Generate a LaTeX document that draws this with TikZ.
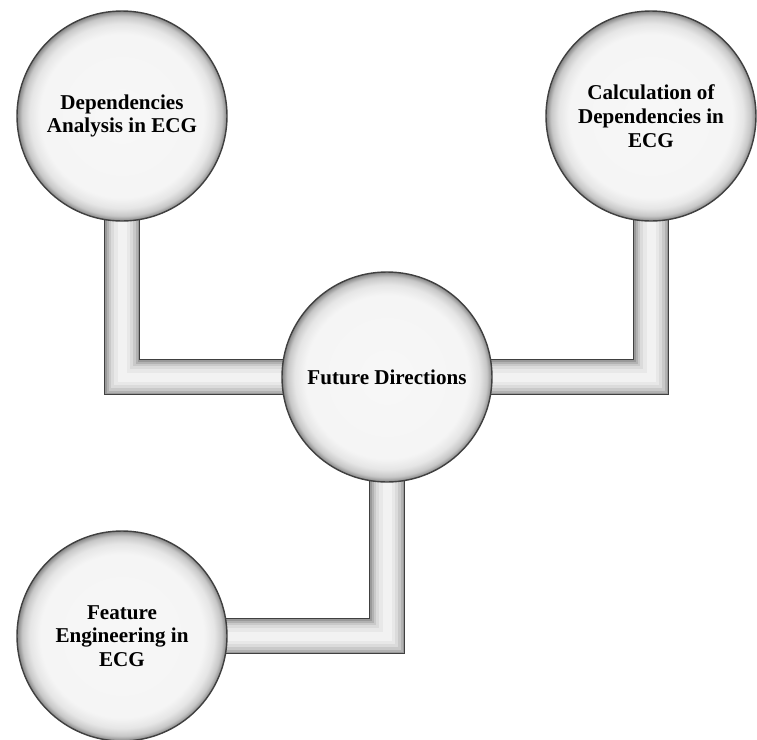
\documentclass[tikz,border=0pt]{standalone}
\usepackage{fontspec}
\setmainfont{Liberation Serif}
\usetikzlibrary{backgrounds}

% white centre, grey rim, like a glass ball
\pgfdeclareradialshading{ballshade}{\pgfpoint{0bp}{0bp}}{%
  color(0bp)=(white!97!black); color(19.5bp)=(white!96!black);
  color(22bp)=(white!90!black); color(23.8bp)=(black!22);
  color(25bp)=(black!48); color(50bp)=(black!48)}

\tikzset{
  ball/.style={circle, minimum size=4.2cm, inner sep=0pt, shading=ballshade,
    draw=black!75, line width=0.8pt, align=center,
    font=\fontsize{12}{13.5}\selectfont\bfseries},
  pipe/.style={draw=black!75, line width=0.72cm,
    postaction={draw=black!40, line width=0.68cm},
    postaction={draw=black!30, line width=0.62cm},
    postaction={draw=black!21, line width=0.54cm},
    postaction={draw=black!14, line width=0.44cm},
    postaction={draw=black!9, line width=0.32cm},
    postaction={draw=black!5, line width=0.18cm}}
}

\begin{document}
\begin{tikzpicture}
\useasboundingbox (0,0) rectangle (15.14,-14.8);
%The hub in the middle, and the three topics round it
\node[ball](fd) at (7.74,-7.54){Future Directions};
\node[ball](da) at (2.44,-2.32){Dependencies\\Analysis in ECG};
\node[ball](cd) at (13.02,-2.32){Calculation of\\Dependencies in\\ECG};
\node[ball](fe) at (2.44,-12.72){Feature\\Engineering in\\ECG};
%Tubes go behind the balls
\begin{scope}[on background layer]
\fill[white] (0,0) rectangle (15.14,-14.8);
\draw[pipe] (da.center) |- (fd.center);
\draw[pipe] (cd.center) |- (fd.center);
\draw[pipe] (fd.center) |- (fe.center);
\end{scope}
\end{tikzpicture}
\end{document}
